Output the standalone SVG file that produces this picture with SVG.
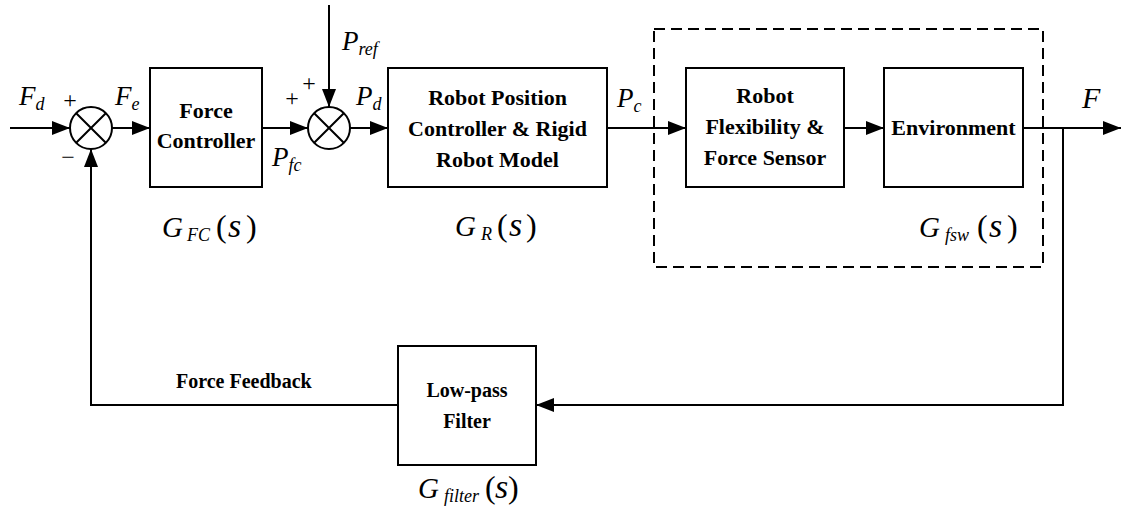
<svg xmlns="http://www.w3.org/2000/svg" width="1123" height="506" viewBox="0 0 1123 506">
<style>
.box{fill:#fff;stroke:#000;stroke-width:2}
.ln{fill:none;stroke:#000;stroke-width:2}
.sum{fill:#fff;stroke:#000;stroke-width:2}
text{font-family:"Liberation Serif",Tinos,"Times New Roman",Times,"DejaVu Serif",serif}
.lb{font-weight:bold;font-size:22px;text-anchor:middle;fill:#000}
.lb2{font-weight:bold;font-size:20px;fill:#000}
.m{font-style:italic;font-size:27px;fill:#000}
.sub{font-size:18px}
.g{font-style:italic;font-size:29px;fill:#000}
.gs{font-size:18px}
.p{font-style:normal;font-size:32px}
.s{font-size:34px}
.sign{font-size:24px;fill:#000;text-anchor:middle}
</style>
<defs>
<marker id="arr" viewBox="0 0 18 14" refX="18" refY="7" markerWidth="18" markerHeight="14" markerUnits="userSpaceOnUse" orient="auto">
<path d="M0,0 L18,7 L0,14 Z" fill="#000"/>
</marker>
</defs>

<g id="connectors">
<line class="ln" x1="10" y1="128" x2="70" y2="128" marker-end="url(#arr)"/>
<line class="ln" x1="112" y1="128" x2="150" y2="128" marker-end="url(#arr)"/>
<line class="ln" x1="262" y1="128" x2="308" y2="128" marker-end="url(#arr)"/>
<line class="ln" x1="329" y1="5" x2="329" y2="107" marker-end="url(#arr)"/>
<line class="ln" x1="350" y1="128" x2="388" y2="128" marker-end="url(#arr)"/>
<line class="ln" x1="607" y1="128" x2="686" y2="128" marker-end="url(#arr)"/>
<line class="ln" x1="844" y1="128" x2="884" y2="128" marker-end="url(#arr)"/>
<line class="ln" x1="1023" y1="128" x2="1121" y2="128" marker-end="url(#arr)"/>
<polyline class="ln" points="1063,128 1063,405 536,405" marker-end="url(#arr)"/>
<polyline class="ln" points="398,405 91,405 91,149" marker-end="url(#arr)"/>
</g>

<g id="dashed-group">
<rect x="654" y="29" width="389" height="238" fill="none" stroke="#000" stroke-width="2" stroke-dasharray="11,6"/>
</g>

<g id="sum1">
<circle class="sum" cx="91" cy="128" r="21"/>
<path class="ln" d="M76.2,113.2 L105.8,142.8 M105.8,113.2 L76.2,142.8"/>
</g>

<g id="sum2">
<circle class="sum" cx="329" cy="128" r="21"/>
<path class="ln" d="M314.2,113.2 L343.8,142.8 M343.8,113.2 L314.2,142.8"/>
</g>

<g id="force-controller">
<rect class="box" x="150" y="68" width="112" height="119"/>
<text class="lb" x="206" y="118">Force</text>
<text class="lb" x="206" y="148">Controller</text>
</g>

<g id="robot-position">
<rect class="box" x="388" y="68" width="219" height="119"/>
<text class="lb" x="497.5" y="105">Robot Position</text>
<text class="lb" x="497.5" y="136">Controller &amp; Rigid</text>
<text class="lb" x="497.5" y="167">Robot Model</text>
</g>

<g id="robot-flex">
<rect class="box" x="686" y="68" width="158" height="119"/>
<text class="lb" x="765" y="103">Robot</text>
<text class="lb" x="765" y="134">Flexibility &amp;</text>
<text class="lb" x="765" y="165">Force Sensor</text>
</g>

<g id="environment">
<rect class="box" x="884" y="68" width="139" height="119"/>
<text class="lb" x="953.5" y="135">Environment</text>
</g>

<g id="low-pass-filter">
<rect class="box" x="398" y="346" width="138" height="119"/>
<text class="lb" x="467" y="397" style="font-size:20px">Low-pass</text>
<text class="lb" x="467" y="428" style="font-size:20px">Filter</text>
</g>

<g id="labels">
<text class="m" x="19" y="105">F<tspan class="sub" dy="5">d</tspan></text>
<text class="m" x="115" y="105">F<tspan class="sub" dy="5">e</tspan></text>
<text class="m" x="272" y="166">P<tspan class="sub" dy="5">fc</tspan></text>
<text class="m" x="342" y="50">P<tspan class="sub" dy="5">ref</tspan></text>
<text class="m" x="356" y="105">P<tspan class="sub" dy="5">d</tspan></text>
<text class="m" x="617" y="107">P<tspan class="sub" dy="5">c</tspan></text>
<text class="m" x="1082" y="108" style="font-size:30px">F</text>
<text class="sign" x="70" y="108">+</text>
<text class="sign" x="68" y="165">−</text>
<text class="sign" x="292" y="106">+</text>
<text class="sign" x="309" y="91">+</text>
<text class="lb2" x="176" y="388">Force Feedback</text>

<text class="g" y="237"><tspan x="162">G</tspan><tspan class="gs" x="187" dy="4">FC</tspan><tspan class="p" x="216" dy="-4">(</tspan><tspan class="s" x="228">s</tspan><tspan class="p" x="246">)</tspan></text>
<text class="g" y="236"><tspan x="455">G</tspan><tspan class="gs" x="481" dy="4">R</tspan><tspan class="p" x="497" dy="-4">(</tspan><tspan class="s" x="509">s</tspan><tspan class="p" x="526">)</tspan></text>
<text class="g" y="237"><tspan x="919">G</tspan><tspan class="gs" x="945" dy="4">fsw</tspan><tspan class="p" x="977" dy="-4">(</tspan><tspan class="s" x="989">s</tspan><tspan class="p" x="1007">)</tspan></text>
<text class="g" y="498"><tspan x="418">G</tspan><tspan class="gs" x="444" dy="4">filter</tspan><tspan class="p" x="485" dy="-4">(</tspan><tspan class="s" x="495">s</tspan><tspan class="p" x="508">)</tspan></text>
</g>
</svg>
